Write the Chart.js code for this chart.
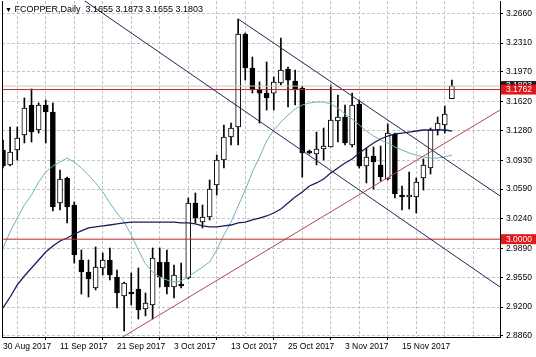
<!DOCTYPE html>
<html>
<head>
<meta charset="utf-8">
<script src="https://cdn.jsdelivr.net/npm/chart.js@4.4.1/dist/chart.umd.min.js"></script>
<style>
  body { margin: 0; background: #fff; }
  #wrap { position: relative; width: 536px; height: 357px; }
  #titulo { position: absolute; left: 5px; top: 4px; font: 9px "Liberation Sans", Arial, sans-serif; color: #000; white-space: pre; }
  #titulo span { font-size: 7px; }
</style>
</head>
<body>
<div id="wrap">
  <canvas id="myChart" width="536" height="357"></canvas>
  <div id="titulo"></div>
</div>
<script>
const fechas = ['30 Aug 2017', '11 Sep 2017', '21 Sep 2017', '3 Oct 2017', '13 Oct 2017', '25 Oct 2017', '3 Nov 2017', '15 Nov 2017']
const marcasX = [0, 4, 8, 12, 16, 20, 24, 28, 32, 36, 40, 44, 48, 52, 56, 60, 64, 68]
const marcasY = [3.2660, 3.2310, 3.1970, 3.1620, 3.1280, 3.0930, 3.0590, 3.0240, 2.9890, 2.9550, 2.9200, 2.8860]
const limitesX = [-0.14, 69.75]
const limitesY = [2.8848, 3.2805]

// velas diarias (O H L C)
const aperturas = [3.1050, 3.0874, 3.1050, 3.1227, 3.1580, 3.1286, 3.1580, 3.1498, 3.0426, 3.0720,
  3.0403, 2.9755, 2.9614, 2.9425, 2.9661, 2.9755, 2.9555, 2.9331, 2.9378, 2.9413,
  2.9178, 2.9225, 2.9731, 2.9731, 2.9437, 2.9472, 2.9543, 3.0426, 3.0202, 3.0261,
  3.0638, 3.0932, 3.1203, 3.1321, 3.2416, 3.2016, 3.1757, 3.1721, 3.1721, 3.1839,
  3.2004, 3.1863, 3.1780, 3.1038, 3.1003, 3.1062, 3.1086, 3.1392, 3.1439, 3.1109,
  3.1592, 3.0862, 3.0980, 3.0874, 3.0709, 3.1239, 3.0520, 3.0497, 3.0497, 3.0720,
  3.0838, 3.1286, 3.1345, 3.1655]
const maximos = [3.1168, 3.1321, 3.1321, 3.1663, 3.1769, 3.1604, 3.1639, 3.1604, 3.0815, 3.0732,
  3.0438, 2.9873, 2.9755, 2.9908, 2.9837, 2.9896, 2.9637, 2.9496, 2.9602, 2.9661,
  2.9366, 2.9896, 2.9896, 2.9873, 2.9696, 2.9719, 3.0485, 3.0544, 3.0403, 3.0697,
  3.0991, 3.1345, 3.1368, 3.2593, 3.2428, 3.2145, 3.1851, 3.2087, 3.1910, 3.2369,
  3.2028, 3.1992, 3.1804, 3.1050, 3.1262, 3.1309, 3.1816, 3.1698, 3.1580, 3.1721,
  3.1639, 3.1074, 3.1086, 3.1097, 3.1356, 3.1250, 3.0626, 3.0791, 3.0720, 3.0944,
  3.1309, 3.1439, 3.1568, 3.1873]
const minimos = [3.0838, 3.0862, 3.0932, 3.1133, 3.1144, 3.1250, 3.1133, 3.0332, 3.0344, 3.0191,
  2.9719, 2.9354, 2.9319, 2.9402, 2.9578, 2.9519, 2.9190, 2.8919, 2.9225, 2.9060,
  2.9096, 2.9060, 2.9437, 2.9354, 2.9307, 2.9425, 2.9531, 3.0191, 3.0132, 3.0226,
  3.0520, 3.0838, 3.1109, 3.1109, 3.1874, 3.1721, 3.1368, 3.1521, 3.1521, 3.1816,
  3.1557, 3.1580, 3.0732, 3.1003, 3.0874, 3.0932, 3.1086, 3.1144, 3.1109, 3.1086,
  3.0838, 3.0662, 3.0591, 3.0685, 3.0697, 3.0485, 3.0344, 3.0355, 3.0308, 3.0579,
  3.0768, 3.1227, 3.1250, 3.1655]
const cierres = [3.0862, 3.1027, 3.1192, 3.1545, 3.1262, 3.1580, 3.1498, 3.0379, 3.0709, 3.0379,
  2.9814, 2.9614, 2.9531, 2.9672, 2.9755, 2.9578, 2.9366, 2.9484, 2.9354, 2.9166,
  2.9248, 2.9778, 2.9555, 2.9437, 2.9578, 2.9449, 3.0426, 3.0249, 3.0261, 3.0591,
  3.0932, 3.1203, 3.1309, 3.2416, 3.2016, 3.1757, 3.1721, 3.1663, 3.1851, 3.1992,
  3.1874, 3.1757, 3.1015, 3.1015, 3.1062, 3.1097, 3.1403, 3.1439, 3.1133, 3.1580,
  3.0862, 3.0968, 3.0909, 3.0732, 3.1250, 3.0532, 3.0497, 3.0520, 3.0673, 3.0874,
  3.1286, 3.1368, 3.1474, 3.1803]

// medias moviles
const mediaRapida = [2.9896, 3.0085, 3.0249, 3.0403, 3.0520, 3.0673, 3.0791, 3.0862, 3.0909, 3.0956,
  3.0909, 3.0838, 3.0756, 3.0662, 3.0556, 3.0426, 3.0308, 3.0202, 3.0049, 2.9873,
  2.9708, 2.9614, 2.9555, 2.9519, 2.9496, 2.9508, 2.9555, 2.9614, 2.9672, 2.9731,
  2.9873, 3.0049, 3.0202, 3.0391, 3.0579, 3.0791, 3.0968, 3.1156, 3.1286, 3.1380,
  3.1462, 3.1533, 3.1580, 3.1604, 3.1615, 3.1615, 3.1592, 3.1545, 3.1474, 3.1415,
  3.1345, 3.1274, 3.1215, 3.1168, 3.1133, 3.1086, 3.1050, 3.1015, 3.0991, 3.0968,
  3.0956, 3.0956, 3.0968, 3.0991]
const mediaLenta = [2.9190, 2.9319, 2.9461, 2.9566, 2.9661, 2.9755, 2.9849, 2.9920, 2.9979, 3.0014,
  3.0061, 3.0097, 3.0132, 3.0144, 3.0156, 3.0167, 3.0179, 3.0191, 3.0202, 3.0202,
  3.0202, 3.0202, 3.0202, 3.0202, 3.0202, 3.0191, 3.0191, 3.0179, 3.0156, 3.0144,
  3.0144, 3.0156, 3.0167, 3.0191, 3.0202, 3.0226, 3.0249, 3.0273, 3.0308, 3.0355,
  3.0426, 3.0497, 3.0556, 3.0626, 3.0662, 3.0709, 3.0779, 3.0838, 3.0897, 3.0944,
  3.1015, 3.1074, 3.1133, 3.1180, 3.1215, 3.1239, 3.1250, 3.1262, 3.1274, 3.1286,
  3.1286, 3.1286, 3.1286, 3.1274]

// niveles y lineas de tendencia (indice de vela, precio)
const nivelesRojos = [3.1762, 3.0000]
const precioBid = 3.1803
const canalSuperior = [[33, 3.2593], [69.75, 3.0509]]
const canalInferior = [[11.4, 3.2810], [69.75, 2.9437]]
const soporte = [[16.8, 2.8848], [69.75, 3.1521]]

const ultima = cierres.length - 1
document.querySelector('#titulo').innerHTML =
  `<span>▼</span> FCOPPER,Daily  ${aperturas[ultima].toFixed(4)} ${maximos[ultima].toFixed(4)} ${minimos[ultima].toFixed(4)} ${cierres[ultima].toFixed(4)}`

const velas = aperturas.map((o, i) => ({ x: i, y: [o, cierres[i]] }))
const mechas = maximos.map((h, i) => ({ x: i, y: [minimos[i], h] }))
const relleno = aperturas.map((o, i) => cierres[i] >= o ? '#ffffff' : '#000000')

const linea = (puntos, color, orden) => ({
  type: 'line',
  data: puntos.map(p => ({ x: p[0], y: p[1] })),
  borderColor: color,
  borderWidth: 1,
  pointRadius: 0,
  order: orden
})

const datasets = [
  { type: 'bar', data: mechas, backgroundColor: '#000', barThickness: 1, grouped: false, order: 6 },
  { type: 'bar', data: velas, backgroundColor: relleno, borderColor: '#000', borderWidth: 1,
    borderSkipped: false, barThickness: 5, grouped: false, order: 5 },
  { type: 'line', data: mediaRapida.map((v, i) => ({ x: i, y: v })), borderColor: '#6cb4b8',
    borderWidth: 1, pointRadius: 0, order: 4 },
  { type: 'line', data: mediaLenta.map((v, i) => ({ x: i, y: v })), borderColor: '#1c1c58',
    borderWidth: 1.3, pointRadius: 0, order: 3 },
  linea([[limitesX[0], precioBid], [limitesX[1], precioBid]], '#c8c8c8', 2),
  ...nivelesRojos.map(v => linea([[limitesX[0], v], [limitesX[1], v]], '#b42a2a', 1)),
  linea(canalSuperior, '#23235e', 0),
  linea(canalInferior, '#23235e', 0),
  linea(soporte, '#b04848', 0)
]

const fuente = { family: '"Liberation Sans", Arial, sans-serif', size: 8.5 }

const marcos = {
  id: 'marcos',
  afterDraw(chart) {
    const { ctx, chartArea, scales } = chart
    ctx.save()
    ctx.strokeStyle = '#000'
    ctx.lineWidth = 1
    ctx.beginPath()
    ctx.moveTo(chartArea.left + 0.5, chartArea.top)
    ctx.lineTo(chartArea.left + 0.5, chartArea.bottom)
    ctx.stroke()
    const etiquetas = [[precioBid, '#1a1a1a'], ...nivelesRojos.map(v => [v, '#e3161b'])]
    ctx.font = '8.5px "Liberation Sans", Arial, sans-serif'
    ctx.textBaseline = 'middle'
    etiquetas.forEach(([valor, fondo]) => {
      const y = scales.y.getPixelForValue(valor)
      ctx.fillStyle = fondo
      ctx.fillRect(chartArea.right + 1, y - 5, 36, 10)
      ctx.fillStyle = '#fff'
      ctx.fillText(valor.toFixed(4), chartArea.right + 6, y)
    })
    ctx.restore()
  }
}

const config = {
  type: 'bar',
  data: { datasets },
  options: {
    responsive: false,
    devicePixelRatio: 1,
    animation: false,
    layout: { padding: { left: 2, top: 1, right: 0, bottom: 0 } },
    plugins: { legend: { display: false }, tooltip: { enabled: false } },
    scales: {
      x: {
        type: 'linear',
        position: 'bottom',
        min: limitesX[0],
        max: limitesX[1],
        offset: false,
        afterBuildTicks: (scale) => { scale.ticks = marcasX.map(v => ({ value: v })) },
        afterFit: (scale) => {
          scale.height = 20
          scale.paddingLeft = 0
          scale.paddingRight = 0
        },
        ticks: {
          autoSkip: false,
          maxRotation: 0,
          align: 'start',
          padding: 2,
          color: '#000',
          font: fuente,
          callback: (v) => (v % 8 === 0 && fechas[v / 8]) ? fechas[v / 8] : ''
        },
        grid: {
          color: '#c4c4c4',
          tickLength: 3,
          tickColor: (ctx) => (ctx.tick && ctx.tick.value % 8 === 0 && fechas[ctx.tick.value / 8]) ? '#000' : 'rgba(0,0,0,0)'
        },
        border: { color: '#000', width: 1, dash: [3, 2] }
      },
      y: {
        type: 'linear',
        position: 'right',
        min: limitesY[0],
        max: limitesY[1],
        afterBuildTicks: (scale) => { scale.ticks = marcasY.map(v => ({ value: v })) },
        afterFit: (scale) => {
          scale.width = 36
          scale.paddingTop = 0
          scale.paddingBottom = 0
        },
        ticks: {
          padding: 3,
          color: '#000',
          font: fuente,
          callback: (v) => v.toFixed(4)
        },
        grid: { color: '#c4c4c4', tickLength: 3, tickColor: '#000' },
        border: { color: '#000', width: 1, dash: [3, 2] }
      }
    }
  },
  plugins: [marcos]
}

const grafico = document.querySelector('#myChart')
new Chart(grafico, config)
</script>
</body>
</html>
